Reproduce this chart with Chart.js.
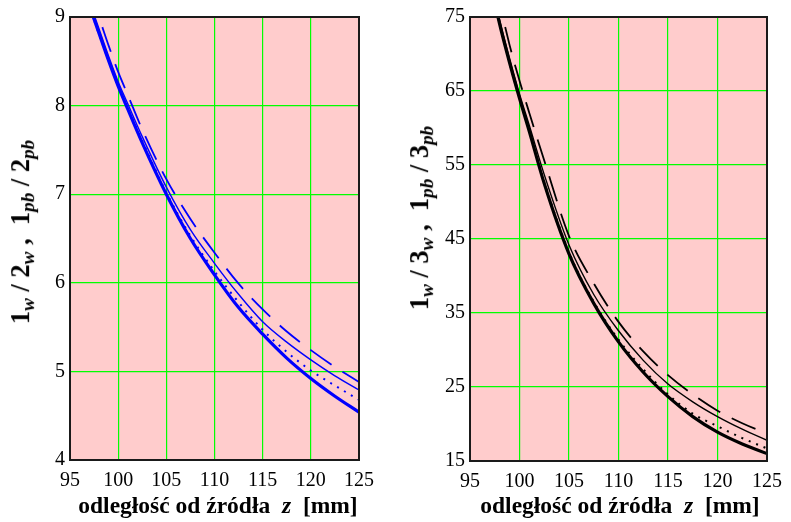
<!DOCTYPE html>
<html lang="pl">
<head>
  <meta charset="UTF-8" />
  <title>Stosunki wydajności w funkcji odległości od źródła</title>
  <script src="https://cdn.jsdelivr.net/npm/chart.js"></script>
  <style>
    body { margin: 0; background: #fff; width: 791px; height: 522px; position: relative; overflow: hidden; }
    .box { position: absolute; top: 0; height: 522px; }
    #leftBox { left: 0; width: 395px; }
    #rightBox { left: 400px; width: 391px; }
    .xtitle, .ytitle {
      position: absolute;
      font-family: 'Liberation Serif', 'Times New Roman', serif;
      font-weight: bold;
      color: #000;
      white-space: nowrap;
    }
    .xtitle { font-size: 23.5px; top: 492px; transform: translateX(-50%); }
    .ytitle { font-size: 26.5px; transform: translate(-50%, -50%) rotate(-90deg); }
    .ytitle sub, .ytitle i { font-style: italic; }
    .ytitle sub { font-size: 0.72em; vertical-align: -0.25em; }
  </style>
</head>
<body>
  <div class="box" id="leftBox"><canvas id="leftChart" width="395" height="522"></canvas></div>
  <div class="box" id="rightBox"><canvas id="rightChart" width="391" height="522"></canvas></div>

  <div class="ytitle" style="left:22px; top:232px;">1<sub>w</sub> / 2<sub>w</sub> ,&nbsp; 1<sub>pb</sub> / 2<sub>pb</sub></div>
  <div class="xtitle" style="left:218px;">odległość od źródła&nbsp; <i>z</i>&nbsp; [mm]</div>
  <div class="ytitle" style="left:421px; top:218px;">1<sub>w</sub> / 3<sub>w</sub> ,&nbsp; 1<sub>pb</sub> / 3<sub>pb</sub></div>
  <div class="xtitle" style="left:620px;">odległość od źródła&nbsp; <i>z</i>&nbsp; [mm]</div>

  <script>
    // odległość z [mm]
    const zValues = [97, 98, 99, 100, 101, 102.5, 105, 107.5, 110, 112.5, 115, 117.5, 120, 122.5, 125];

    // left panel: 1w/2w, 1pb/2pb
    const left_thick  = [9.13, 8.82, 8.51, 8.22, 7.96, 7.58, 7.00, 6.50, 6.09, 5.72, 5.42, 5.15, 4.92, 4.72, 4.54];
    const left_dotted = [9.12, 8.81, 8.51, 8.22, 7.97, 7.60, 7.02, 6.53, 6.13, 5.78, 5.47, 5.22, 5.01, 4.84, 4.68];
    const left_thin   = [9.18, 8.87, 8.56, 8.27, 8.02, 7.65, 7.08, 6.60, 6.22, 5.87, 5.56, 5.33, 5.13, 4.95, 4.79];
    const left_dashed = [9.30, 9.00, 8.68, 8.38, 8.12, 7.73, 7.17, 6.72, 6.34, 5.99, 5.70, 5.45, 5.24, 5.05, 4.88];

    // right panel: 1w/3w, 1pb/3pb
    const right_thick  = [80.0, 74.0, 68.8, 64.0, 59.5, 52.5, 43.0, 36.3, 31.1, 27.0, 23.7, 21.0, 18.9, 17.3, 16.0];
    const right_dotted = [80.0, 74.0, 68.8, 64.0, 59.6, 52.7, 43.2, 36.5, 31.4, 27.4, 24.0, 21.4, 19.7, 18.1, 16.7];
    const right_thin   = [80.5, 74.6, 69.4, 64.6, 60.3, 53.7, 44.2, 37.5, 32.6, 28.6, 25.4, 23.0, 21.0, 19.3, 17.8];
    const right_dashed = [84.0, 77.0, 71.2, 66.4, 62.0, 55.6, 45.4, 39.0, 33.8, 29.8, 26.6, 24.0, 21.8, 20.1, 18.7];

    const xTicks = [95, 100, 105, 110, 115, 120, 125];
    const leftYTicks = [4, 5, 6, 7, 8, 9];
    const rightYTicks = [15, 25, 35, 45, 55, 65, 75];

    const tickFont = { family: "'Liberation Serif', 'Times New Roman', serif", size: 20 };

    // pink plot background + dark frame
    const frame = {
      id: 'frame',
      beforeDraw(chart) {
        const { ctx, chartArea: a } = chart;
        ctx.save();
        ctx.fillStyle = '#ffcccc';
        ctx.fillRect(a.left, a.top, a.right - a.left, a.bottom - a.top);
        ctx.restore();
      },
      afterDraw(chart) {
        const { ctx, chartArea: a } = chart;
        ctx.save();
        ctx.strokeStyle = '#1a1a1a';
        ctx.lineWidth = 2;
        ctx.strokeRect(a.left, a.top, a.right - a.left, a.bottom - a.top);
        ctx.restore();
      }
    };

    function pts(ys) {
      return zValues.map((z, i) => ({ x: z, y: ys[i] }));
    }

    function series(ys, color, style) {
      const ds = {
        data: pts(ys),
        borderColor: color,
        pointRadius: 0,
        fill: false,
        cubicInterpolationMode: 'monotone',
        clip: 0
      };
      if (style === 'thick') { ds.borderWidth = 3.2; }
      if (style === 'thin') { ds.borderWidth = 1.4; }
      if (style === 'dotted') { ds.borderWidth = 2; ds.borderDash = [2, 6]; }
      if (style === 'dashed') { ds.borderWidth = 1.8; ds.borderDash = [26, 13]; }
      return ds;
    }

    function makeChart(id, sets, yTicks, pad, yWidth, xHeight) {
      new Chart(document.getElementById(id), {
        type: 'line',
        data: { datasets: sets },
        options: {
          responsive: false,
          animation: false,
          layout: { padding: pad },
          plugins: { legend: { display: false }, tooltip: { enabled: false } },
          scales: {
            x: {
              type: 'linear',
              min: xTicks[0],
              max: xTicks[xTicks.length - 1],
              afterBuildTicks: s => { s.ticks = xTicks.map(v => ({ value: v })); },
              afterFit: s => { s.height = xHeight; },
              grid: { color: '#00ff00', lineWidth: 1.2, drawTicks: false },
              border: { display: false },
              ticks: { color: '#000', font: tickFont, padding: 9, maxRotation: 0 }
            },
            y: {
              min: yTicks[0],
              max: yTicks[yTicks.length - 1],
              afterBuildTicks: s => { s.ticks = yTicks.map(v => ({ value: v })); },
              afterFit: s => { s.width = yWidth; },
              grid: { color: '#00ff00', lineWidth: 1.2, drawTicks: false },
              border: { display: false },
              ticks: { color: '#000', font: tickFont, padding: 5 }
            }
          }
        },
        plugins: [frame]
      });
    }

    const blue = '#0000ff';
    makeChart('leftChart', [
      series(left_thick, blue, 'thick'),
      series(left_dotted, blue, 'dotted'),
      series(left_thin, blue, 'thin'),
      series(left_dashed, blue, 'dashed')
    ], leftYTicks, { top: 11, right: 36, left: 0, bottom: 0 }, 70, 62);

    const black = '#000000';
    makeChart('rightChart', [
      series(right_thick, black, 'thick'),
      series(right_dotted, black, 'dotted'),
      series(right_thin, black, 'thin'),
      series(right_dashed, black, 'dashed')
    ], rightYTicks, { top: 12, right: 21, left: 0, bottom: 0 }, 70, 61);
  </script>
</body>
</html>
